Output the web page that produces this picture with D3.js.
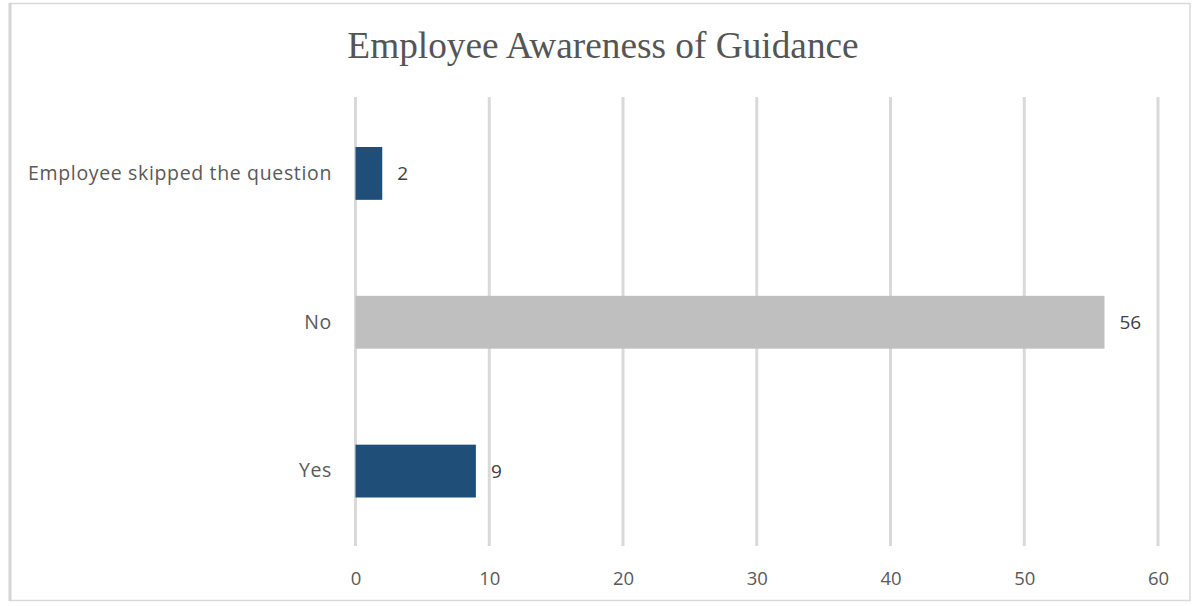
<!DOCTYPE html>
<html><head><meta charset="utf-8">
<script src="https://cdn.jsdelivr.net/npm/d3@7"></script>
<style>html,body{margin:0;padding:0;background:#fff;}svg{display:block;}</style>
</head><body>
<script>
const categories = ["Employee skipped the question", "No", "Yes"];
const values = [2, 56, 9];
const barColors = ["#1f4e79", "#bfbfbf", "#1f4e79"];
const tickValues = [0, 10, 20, 30, 40, 50, 60];
const title = "Employee Awareness of Guidance";

const W = 1195, H = 606;
const svg = d3.select("body").append("svg").attr("width", W).attr("height", H);

// chart border
svg.append("rect").attr("x", 10).attr("y", 3.5).attr("width", 1180).attr("height", 597)
  .attr("fill", "#fff").attr("stroke", "#d9d9d9").attr("stroke-width", 1.5);
svg.append("line").attr("x1", 10).attr("x2", 10).attr("y1", 3).attr("y2", 601)
  .attr("stroke", "#d4d4d4").attr("stroke-width", 3);

const x = d3.scaleLinear().domain([0, 60]).range([355.5, 1158]);
const y = d3.scaleBand().domain(categories).range([99, 545.5]).paddingInner(0.645).paddingOuter(0.3225);

// gridlines
svg.append("g").selectAll("line").data(tickValues).join("line")
  .attr("x1", d => x(d)).attr("x2", d => x(d))
  .attr("y1", 97).attr("y2", 546)
  .attr("stroke", "#d9d9d9").attr("stroke-width", 3);

const labelFont = "'Open Sans', sans-serif";

// x axis labels
const xAxis = d3.axisBottom(x).tickValues(tickValues).tickSize(0).tickPadding(0);
const gx = svg.append("g").attr("transform", "translate(0,585)").call(xAxis);
gx.select(".domain").remove();
gx.selectAll("text").attr("font-family", labelFont).attr("font-size", 18.5)
  .attr("fill", "#595959").attr("dy", null);

// y axis labels
const yAxis = d3.axisLeft(y).tickSize(0).tickPadding(23);
const gy = svg.append("g").attr("transform", "translate(355,0)").call(yAxis);
gy.select(".domain").remove();
gy.selectAll("text").attr("font-family", labelFont).attr("font-size", 19.5)
  .attr("letter-spacing", 0.65).attr("fill", "#595959");

// bars
svg.append("g").selectAll("rect").data(values).join("rect")
  .attr("x", x(0)).attr("y", (d, i) => y(categories[i]))
  .attr("width", d => x(d) - x(0)).attr("height", y.bandwidth())
  .attr("fill", (d, i) => barColors[i]);

// value labels
svg.append("g").selectAll("text").data(values).join("text")
  .attr("x", d => x(d) + 15).attr("y", (d, i) => y(categories[i]) + y.bandwidth() / 2)
  .attr("dy", "0.35em")
  .attr("font-family", labelFont).attr("font-size", 19).attr("fill", "#404040")
  .text(d => d);

// title
svg.append("text").attr("x", 603).attr("y", 58).attr("text-anchor", "middle")
  .attr("font-family", "'Liberation Serif', 'Times New Roman', serif").attr("font-size", 37.3)
  .attr("fill", "#555555").text(title);
</script>
</body></html>
